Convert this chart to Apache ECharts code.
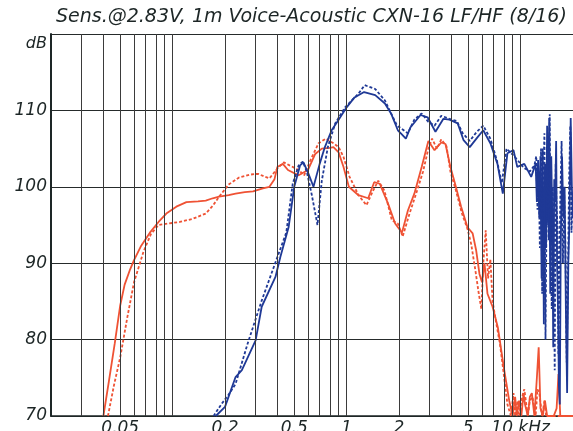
<!DOCTYPE html>
<html>
<head>
<meta charset="utf-8">
<script src="https://cdn.jsdelivr.net/npm/echarts@6/dist/echarts.min.js"></script>
<style>
  html, body { margin: 0; padding: 0; background: #fff; }
  #chart { width: 573px; height: 431px; }
</style>
</head>
<body>
<div id="chart"></div>
<script>
// Frequency response, sensitivity at 2.83 V / 1 m. Frequencies in kHz, levels in dB.

// LF section, solid trace
const lfSolidFreq = [0.040,0.043,0.0465,0.050,0.053,0.057,0.060,0.066,0.074,0.083,0.092,0.105,0.120,0.140,0.155,0.170,0.185,0.210,0.230,0.260,0.290,0.330,0.360,0.385,0.400,0.430,0.460,0.530,0.600,0.660,0.720,0.800,0.840,0.900,0.960,1.03,1.17,1.33,1.44,1.55,1.73,1.90,2.00,2.08,2.25,2.45,2.70,2.95,3.20,3.50,3.70,3.95,4.20,4.55,4.95,5.30,5.55,5.80,6.00,6.20,6.45,6.90,7.40,8.00,8.60,9.00,9.3,9.5,9.8,10.1,10.4,10.6,11.0,11.3,11.6,12.0,12.4,12.7,13.0,13.4,13.8,14.2,15.5,16.1,16.5,16.9,20];
const lfSolidDb   = [70,74.5,79.5,84.5,87.2,89.2,90.4,92.3,94.0,95.4,96.5,97.4,98.0,98.1,98.2,98.5,98.7,98.9,99.1,99.3,99.4,99.8,100.0,101.0,102.6,103.0,102.2,101.5,102.2,104.3,105.0,105.1,105.2,104.5,102.6,100.0,98.9,98.5,100.6,100.4,97.8,95.2,94.5,94.0,96.9,99.1,102.6,106.0,104.8,105.8,105.6,102.6,100.4,97.4,94.7,93.9,91.7,88.6,87.5,90.0,86.0,84.3,81.6,76.4,72.0,70,72.5,70,72,70,73,71.5,70,72.5,73,70,75,79,71,70,72,70,70,71,75.5,70,70];

// LF section, dotted trace
const lfDotFreq = [0.0425,0.046,0.050,0.055,0.060,0.068,0.075,0.083,0.095,0.110,0.130,0.155,0.170,0.185,0.210,0.240,0.280,0.310,0.340,0.360,0.400,0.435,0.470,0.530,0.570,0.620,0.690,0.760,0.840,0.900,0.960,1.04,1.17,1.30,1.42,1.52,1.65,1.82,1.97,2.10,2.30,2.50,2.75,2.95,3.10,3.30,3.50,3.75,3.95,4.25,4.60,4.95,5.20,5.50,5.75,5.95,6.10,6.30,6.50,6.70,6.90,7.20,7.60,8.00,8.40,8.80,9.1,9.3,9.6,9.8,10.2,10.5,11.0,11.3,11.7,12.2,12.5,12.8,13.3,13.7,14.0,20];
const lfDotDb   = [70,74,77.7,83,87.5,91.5,93.8,95.0,95.2,95.4,95.8,96.5,97.5,98.7,100.3,101.2,101.6,101.7,101.3,101.1,102.4,103.2,102.8,102.2,101.5,103.5,105.7,106.3,105.7,105.2,103.9,101.3,98.9,97.6,99.5,100.8,99.5,95.6,95.2,93.5,96.5,99.0,102.0,105.0,106.3,105.0,106.2,105.3,102.0,99.5,96.5,94.5,92.5,89.0,86.0,84.0,90.0,94.3,88.0,90.5,85.0,82.5,79.5,75.5,71.5,70,73,70,72,70,72.5,73.5,70,72,72.5,70,73.5,73,70,72,70,70];

// HF section, solid trace
const hfSolidFreq = [0.177,0.200,0.230,0.250,0.300,0.325,0.390,0.416,0.464,0.500,0.540,0.565,0.604,0.645,0.700,0.750,0.820,0.896,1.00,1.11,1.26,1.46,1.66,1.80,1.97,2.05,2.19,2.33,2.66,2.92,3.24,3.60,3.90,4.35,4.70,5.10,5.66,6.10,6.70,7.36,7.90,8.40,9.10,9.57,10.5,11.5,12.2,12.4,12.6,12.8,13.0,13.2,13.4,13.6,13.8,14.0,14.2,14.4,14.6,14.8,15.0,15.2,15.4,15.6,15.8,16.0,16.2,16.4,16.6,16.8,17.0,17.3,17.6,17.9,18.2,18.5,18.8,19.1,19.4,19.7,20];
const hfSolidDb   = [70,71.2,75.1,76.0,79.9,84.3,88.2,90.8,94.7,100.0,102.8,103.2,101.7,100.0,103.0,105.2,107.4,108.7,110.4,111.7,112.4,112.0,110.9,109.6,107.4,107.0,106.3,107.8,109.4,109.1,107.2,108.9,108.8,108.3,106.1,105.2,106.5,107.4,105.7,103.0,99.1,104.4,104.8,102.6,103.0,101.3,103.0,98,103.5,96,104,88,105,82,103,92,108,95,109,86,104,96,79,101,98,106,90,84,74,71.5,92,104,96,100,84,73,90,96,109,100,96];

// HF section, dotted trace
const hfDotFreq = [0.172,0.190,0.210,0.230,0.270,0.325,0.400,0.450,0.490,0.530,0.560,0.590,0.630,0.680,0.720,0.780,0.860,0.980,1.17,1.27,1.46,1.66,1.80,1.95,2.10,2.25,2.45,2.70,2.95,3.20,3.50,3.90,4.30,4.65,5.10,5.60,6.10,6.70,7.30,7.80,8.30,9.00,9.60,10.4,11.3,12.0,12.3,12.5,12.7,12.9,13.1,13.3,13.5,13.7,13.9,14.1,14.3,14.5,14.7,14.9,15.1,15.3,15.5,15.7,15.9,16.1,16.3,16.5,16.7,16.9,17.2,17.5,17.8,18.1,18.4,18.7,19.0,19.3,19.6,20];
const hfDotDb   = [70,71.5,72.8,74.2,79.5,85.1,90.8,94.0,100.4,102.8,103.3,102.0,99.0,95.0,100.8,105.2,108.3,110.4,112.2,113.3,112.8,111.3,109.6,108.0,107.5,107.0,108.8,109.6,108.5,108.0,109.3,108.9,108.6,107.0,106.0,107.2,108.0,106.3,103.5,100.5,105.0,104.2,103.5,102.5,102.0,102.8,104,97,102,92,105,86,101,107,80,97,104,93,109.5,90,84,100,94,76,103,97,95,78,88,98,106,90,99,92,77,88,101,108,94,99];

// Axis decoration
const gridFreqs = [0.03,0.04,0.05,0.06,0.07,0.08,0.09,0.1,0.2,0.3,0.4,0.5,0.6,0.7,0.8,0.9,1,2,3,4,5,6,7,8,9,10];
const tickFreqs = [0.05,0.2,0.5,1,2,5,10];
const tickLabels = ['0.05','0.2','0.5','1','2','5','10 kHz'];
const titleText = 'Sens.@2.83V, 1m Voice-Acoustic CXN-16 LF/HF (8/16)';

const pairs = (fs, vs) => fs.map((f, i) => [f, vs[i]]);
const RED = '#ef5234';
const BLUE = '#1f3996';
const INK = '#1d2626';
const FONT = 'DejaVu Sans';

const gridMarks = gridFreqs.map(f => {
  const k = tickFreqs.indexOf(f);
  const item = { xAxis: f };
  if (k >= 0) {
    item.label = { show: true, formatter: tickLabels[k] };
  }
  return item;
});

function traceSeries(name, data, color, dotted) {
  return {
    name, type: 'line', data, showSymbol: false, symbol: 'none',
    clip: true, animation: false, silent: true,
    lineStyle: { color, width: 1.8, type: dotted ? [3, 2] : 'solid' },
    z: 3
  };
}

const chart = echarts.init(document.getElementById('chart'), null, { renderer: 'canvas' });
chart.setOption({
  backgroundColor: '#ffffff',
  animation: false,
  title: {
    text: titleText, left: 51, top: 3,
    textStyle: { fontFamily: FONT, fontStyle: 'italic', fontWeight: 'normal', fontSize: 19, color: INK }
  },
  grid: { left: 51, top: 34, width: 525, height: 382 },
  xAxis: {
    type: 'log', logBase: 10, min: 0.02, max: 20,
    axisLine: { show: true, lineStyle: { color: INK, width: 1.5 } },
    axisTick: { show: false }, axisLabel: { show: false },
    splitLine: { show: false }, minorTick: { show: false }, minorSplitLine: { show: false }
  },
  yAxis: {
    type: 'value', min: 70, max: 120, interval: 10,
    axisLine: { show: true, lineStyle: { color: INK, width: 2 } },
    axisTick: { show: false },
    axisLabel: {
      margin: 4, fontFamily: FONT, fontStyle: 'italic', fontSize: 17, color: INK,
      formatter: v => v === 120 ? '{db|dB}' : String(v),
      rich: { db: { fontFamily: FONT, fontStyle: 'italic', fontSize: 16, color: INK, padding: [20, 0, 0, 0] } }
    },
    splitLine: { show: true, lineStyle: { color: '#262b2b', width: 1.2 } }
  },
  series: [
    {
      type: 'line', data: [], silent: true, z: 1,
      markLine: {
        silent: true, animation: false, symbol: ['none', 'none'],
        lineStyle: { type: 'solid', color: '#3b3b3b', width: 1 },
        label: {
          show: false, position: 'start', distance: 4,
          fontFamily: FONT, fontStyle: 'italic', fontSize: 17, color: INK
        },
        emphasis: { disabled: true },
        data: gridMarks
      }
    },
    traceSeries('LF', pairs(lfSolidFreq, lfSolidDb), RED, false),
    traceSeries('LF dotted', pairs(lfDotFreq, lfDotDb), RED, true),
    traceSeries('HF', pairs(hfSolidFreq, hfSolidDb), BLUE, false),
    traceSeries('HF dotted', pairs(hfDotFreq, hfDotDb), BLUE, true)
  ]
});
</script>
</body>
</html>
